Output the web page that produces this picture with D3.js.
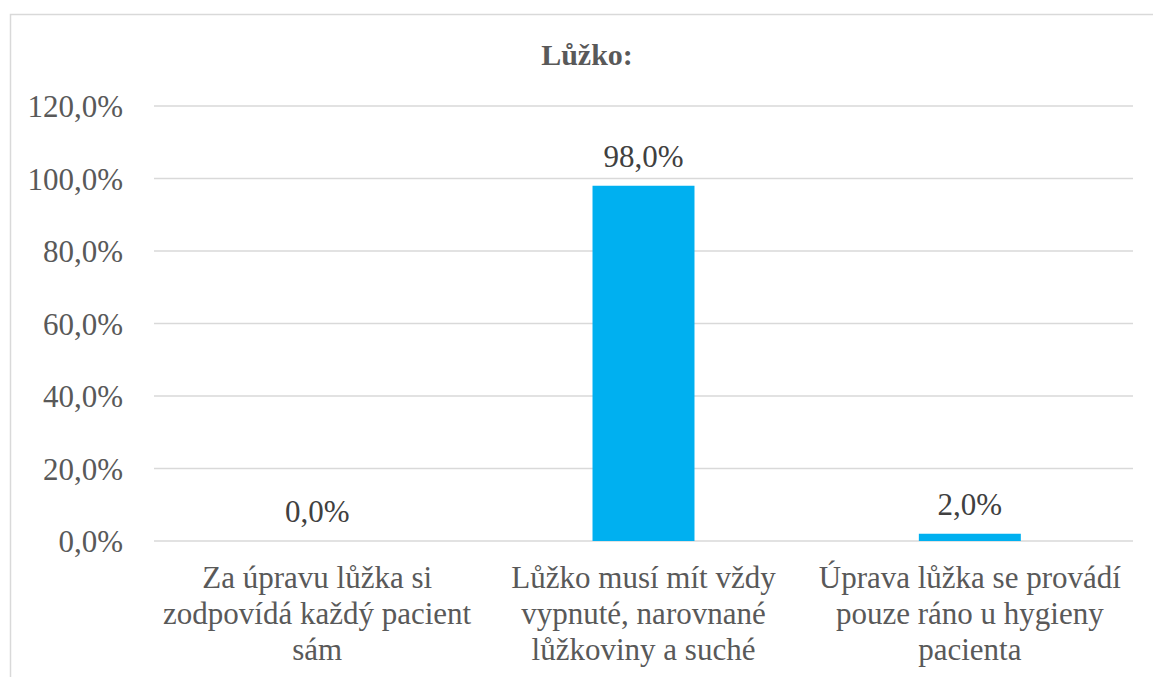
<!DOCTYPE html>
<html>
<head>
<meta charset="utf-8">
<script src="https://cdn.jsdelivr.net/npm/d3@7"></script>
<style>
  html, body { margin: 0; padding: 0; background: #fff; }
  svg text { font-family: "Liberation Serif", "Times New Roman", "DejaVu Serif", serif; }
</style>
</head>
<body>
<script>
"use strict";

// data
const title = "Lůžko:";
const categories = [
    "Za úpravu lůžka si zodpovídá každý pacient sám",
    "Lůžko musí mít vždy vypnuté, narovnané lůžkoviny a suché",
    "Úprava lůžka se provádí pouze ráno u hygieny pacienta"
];
const categoryLines = [
    ["Za úpravu lůžka si", "zodpovídá každý pacient", "sám"],
    ["Lůžko musí mít vždy", "vypnuté, narovnané", "lůžkoviny a suché"],
    ["Úprava lůžka se provádí", "pouze ráno u hygieny", "pacienta"]
];
const values = [0.0, 98.0, 2.0];
const yTicks = [0, 20, 40, 60, 80, 100, 120];

const fmt = v => d3.format(".1f")(v).replace(".", ",") + "%";
const serif = "Liberation Serif, Times New Roman, DejaVu Serif, serif";

const wSvg = 1153, hSvg = 677;
const plot = { left: 154, right: 1133, top: 106, bottom: 541 };

let svg = d3.select("body").append("svg")
    .attr("width", wSvg).attr("height", hSvg);

// chart frame
svg.append("rect")
    .attr("x", 10.5).attr("y", 14.5)
    .attr("width", 1160).attr("height", 700)
    .attr("fill", "#fff")
    .attr("stroke", "#d9d9d9")
    .attr("stroke-width", 1.5);

let xScale = d3.scaleBand()
    .domain(categories)
    .range([plot.left, plot.right])
    .paddingInner(0.6875)
    .paddingOuter(0.34375);

let yScale = d3.scaleLinear()
    .domain([0, 120])
    .range([plot.bottom, plot.top]);

// gridlines
svg.append("g")
    .selectAll("line")
    .data(yTicks)
    .enter()
    .append("line")
    .attr("x1", plot.left).attr("x2", plot.right)
    .attr("y1", d => yScale(d)).attr("y2", d => yScale(d))
    .attr("stroke", "#d9d9d9")
    .attr("stroke-width", 1.5);

// y tick labels
svg.append("g")
    .selectAll("text")
    .data(yTicks)
    .enter()
    .append("text")
    .attr("x", 123)
    .attr("y", d => yScale(d))
    .attr("dy", "0.36em")
    .attr("text-anchor", "end")
    .attr("font-family", serif)
    .attr("font-size", 31)
    .attr("fill", "#595959")
    .text(fmt);

// bars
svg.append("g")
    .selectAll("rect")
    .data(values)
    .enter()
    .append("rect")
    .attr("x", (d, i) => xScale(categories[i]))
    .attr("width", xScale.bandwidth())
    .attr("y", d => yScale(d))
    .attr("height", d => yScale(0) - yScale(d))
    .attr("fill", "#00b0f0");

// data labels
svg.append("g")
    .selectAll("text")
    .data(values)
    .enter()
    .append("text")
    .attr("x", (d, i) => xScale(categories[i]) + xScale.bandwidth() / 2)
    .attr("y", d => yScale(d) - 19)
    .attr("text-anchor", "middle")
    .attr("font-family", serif)
    .attr("font-size", 31)
    .attr("fill", "#404040")
    .text(fmt);

// category labels
let catG = svg.append("g")
    .selectAll("text")
    .data(categoryLines)
    .enter()
    .append("text")
    .attr("text-anchor", "middle")
    .attr("font-family", serif)
    .attr("font-size", 31)
    .attr("fill", "#595959");

catG.each(function (lines, i) {
    let cx = xScale(categories[i]) + xScale.bandwidth() / 2;
    d3.select(this).selectAll("tspan")
        .data(lines)
        .enter()
        .append("tspan")
        .attr("x", cx)
        .attr("y", (l, j) => 588 + j * 36)
        .text(l => l);
});

// title
svg.append("text")
    .attr("x", 587)
    .attr("y", 65)
    .attr("text-anchor", "middle")
    .attr("font-family", serif)
    .attr("font-size", 30)
    .attr("font-weight", "bold")
    .attr("fill", "#595959")
    .text(title);
</script>
</body>
</html>
